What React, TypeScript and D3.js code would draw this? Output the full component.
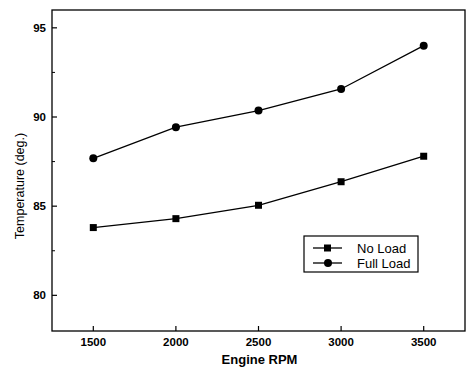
import React from "react";
import * as d3 from "d3";

const rpm = [1500, 2000, 2500, 3000, 3500];
const noLoad = [83.8, 84.3, 85.05, 86.37, 87.8];
const fullLoad = [87.68, 89.43, 90.36, 91.57, 94.0];
const yTicks = [80, 85, 90, 95];
const yMinorTicks = [82.5, 87.5, 92.5];
const xTicks = [1500, 2000, 2500, 3000, 3500];
const seriesNames = ["No Load", "Full Load"];

export default function App() {
  const W = 466, H = 368;
  const left = 52, right = 465, top = 10, bottom = 331;
  const x = d3.scaleLinear().domain([1250, 3750]).range([left, right]);
  const y = d3.scaleLinear().domain([78, 96]).range([bottom, top]);
  const line = d3.line<number>().x((_, i) => x(rpm[i])).y((d) => y(d));
  const font = "Liberation Sans, Arial, sans-serif";
  const lx = 304, ly = 236;
  return (
    <svg width={W} height={H} style={{ position: "absolute", left: 0, top: 0, background: "#fff" }}>
      <rect x={left} y={top} width={right - left} height={bottom - top} fill="none" stroke="#000" strokeWidth={1.3} />
      {yTicks.map((t) => (
        <g key={t}>
          <line x1={left} x2={left + 5} y1={y(t)} y2={y(t)} stroke="#000" strokeWidth={1.2} />
          <text x={left - 6} y={y(t)} dy="0.35em" textAnchor="end" fontFamily={font} fontSize={11.5} fontWeight={600}>{t}</text>
        </g>
      ))}
      {yMinorTicks.map((t) => (
        <line key={t} x1={left} x2={left + 3} y1={y(t)} y2={y(t)} stroke="#000" strokeWidth={1} />
      ))}
      {xTicks.map((t) => (
        <g key={t}>
          <line x1={x(t)} x2={x(t)} y1={bottom} y2={bottom - 5} stroke="#000" strokeWidth={1.2} />
          <text x={x(t)} y={bottom + 15} textAnchor="middle" fontFamily={font} fontSize={11.5} fontWeight={600}>{t}</text>
        </g>
      ))}
      <text x={(left + right) / 2 + 1} y={364} textAnchor="middle" fontFamily={font} fontSize={13} fontWeight={600}>Engine RPM</text>
      <text transform={`translate(24,186) rotate(-90)`} textAnchor="middle" fontFamily={font} fontSize={12.5}>Temperature (deg.)</text>

      <path d={line(noLoad) || ""} fill="none" stroke="#000" strokeWidth={1.3} />
      <path d={line(fullLoad) || ""} fill="none" stroke="#000" strokeWidth={1.3} />
      {noLoad.map((v, i) => (
        <rect key={i} x={x(rpm[i]) - 3.5} y={y(v) - 3.5} width={7} height={7} fill="#000" />
      ))}
      {fullLoad.map((v, i) => (
        <circle key={i} cx={x(rpm[i])} cy={y(v)} r={4} fill="#000" />
      ))}

      <rect x={lx} y={ly} width={114} height={36} fill="#fff" stroke="#000" strokeWidth={1.2} />
      <line x1={lx + 9} x2={lx + 38} y1={ly + 12} y2={ly + 12} stroke="#000" strokeWidth={1.3} />
      <rect x={lx + 23.5 - 3.5} y={ly + 12 - 3.5} width={7} height={7} fill="#000" />
      <text x={lx + 53} y={ly + 12} dy="0.35em" fontFamily={font} fontSize={13}>{seriesNames[0]}</text>
      <line x1={lx + 9} x2={lx + 38} y1={ly + 27} y2={ly + 27} stroke="#000" strokeWidth={1.3} />
      <circle cx={lx + 24} cy={ly + 27} r={4} fill="#000" />
      <text x={lx + 53} y={ly + 27} dy="0.35em" fontFamily={font} fontSize={13}>{seriesNames[1]}</text>
    </svg>
  );
}
